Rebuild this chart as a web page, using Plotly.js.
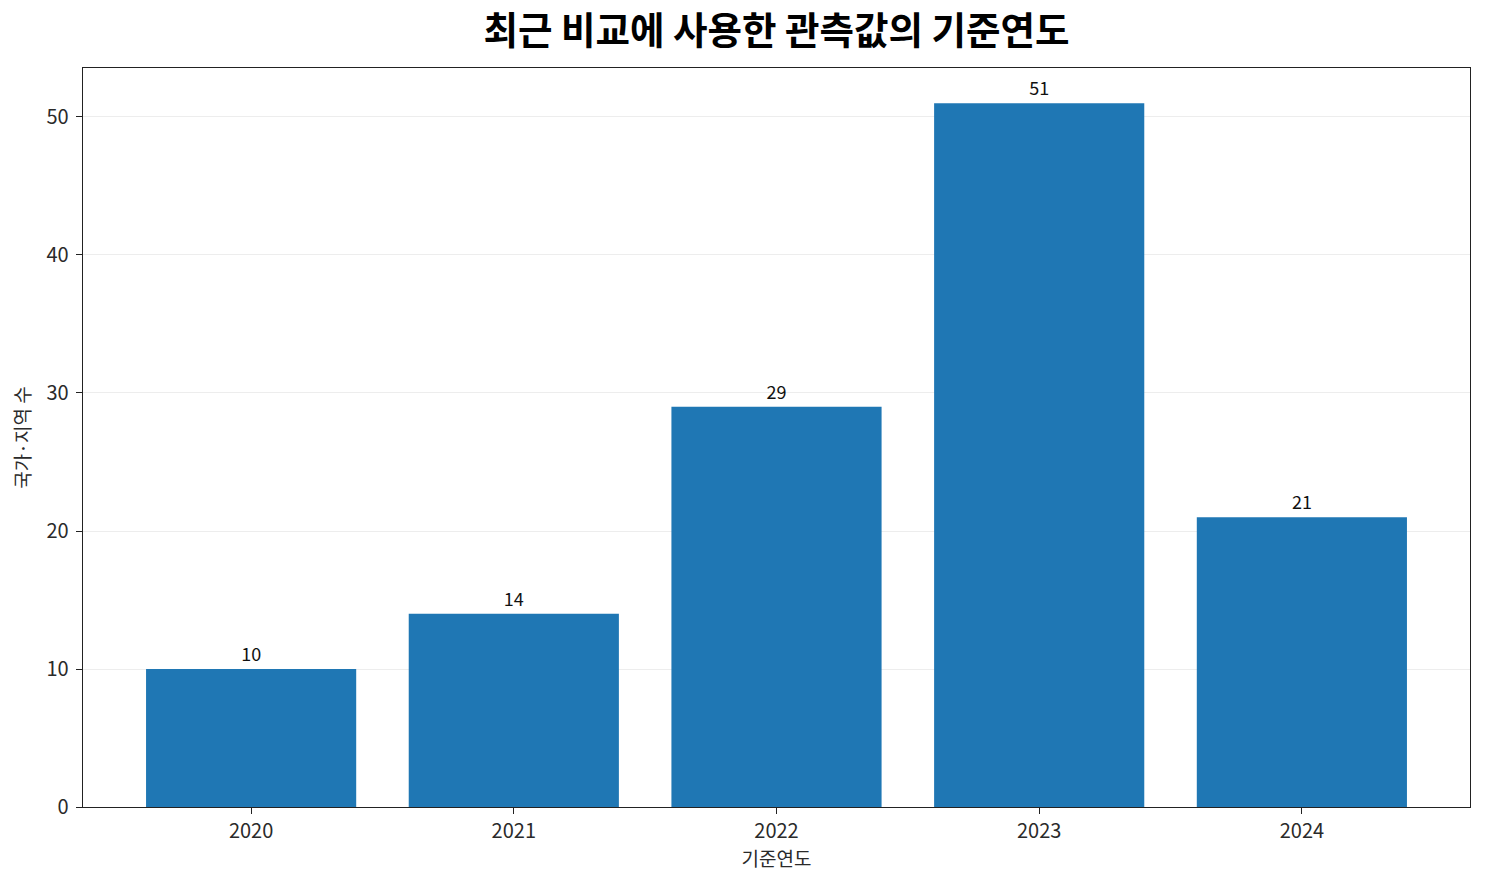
<!DOCTYPE html>
<html>
<head>
<meta charset="utf-8">
<script src="https://cdn.plot.ly/plotly-3.0.1.min.js"></script>
<style>
  html, body { margin: 0; padding: 0; background: #fff; }
  #chart { width: 1485px; height: 885px; }
</style>
</head>
<body>
<div id="chart"></div>
<script>
const years = ['2020', '2021', '2022', '2023', '2024'];
const counts = [10, 14, 29, 51, 21];

const font_family = '"Noto Sans CJK KR", "Noto Sans", sans-serif';

const trace = {
    x: years,
    y: counts,
    type: 'bar',
    width: 0.8,
    marker: {color: '#1f77b4', line: {width: 0}},
    text: counts.map(String),
    textposition: 'outside',
    cliponaxis: false,
    textfont: {family: font_family, size: 18, color: '#111'},
    hoverinfo: 'x+y',
};

const layout = {
    width: 1485,
    height: 885,
    margin: {t: 68, l: 83, r: 15, b: 78},
    paper_bgcolor: '#fff',
    plot_bgcolor: '#fff',
    font: {family: font_family, size: 20, color: '#222'},
    title: {
        text: '<b>최근 비교에 사용한 관측값의 기준연도</b>',
        font: {family: font_family, size: 37.5, color: '#000'},
        xref: 'paper',
        x: 0.5,
        xanchor: 'center',
        yref: 'container',
        y: 1 - 31 / 885,
        yanchor: 'middle',
    },
    xaxis: {
        type: 'category',
        range: [-0.64, 4.64],
        showline: true,
        linecolor: '#222',
        linewidth: 1.3,
        mirror: true,
        ticks: 'outside',
        ticklen: 6,
        tickcolor: '#222',
        showgrid: false,
        zeroline: false,
        tickfont: {size: 20, color: '#2a2a2a'},
        title: {text: '기준연도', font: {size: 19, color: '#2a2a2a'}, standoff: 4},
    },
    yaxis: {
        range: [0, 53.55],
        tickvals: [0, 10, 20, 30, 40, 50],
        showline: true,
        linecolor: '#222',
        linewidth: 1.3,
        mirror: true,
        ticks: 'outside',
        ticklen: 6,
        tickcolor: '#222',
        ticklabelstandoff: 3,
        showgrid: true,
        gridcolor: 'rgba(0,0,0,0.07)',
        zeroline: false,
        layer: 'above traces',
        tickfont: {size: 20, color: '#2a2a2a'},
        title: {text: '국가·지역 수', font: {size: 19, color: '#2a2a2a'}, standoff: 10},
    },
    bargap: 0.2,
    showlegend: false,
};

Plotly.newPlot('chart', [trace], layout, {displayModeBar: false, staticPlot: true});
</script>
</body>
</html>
